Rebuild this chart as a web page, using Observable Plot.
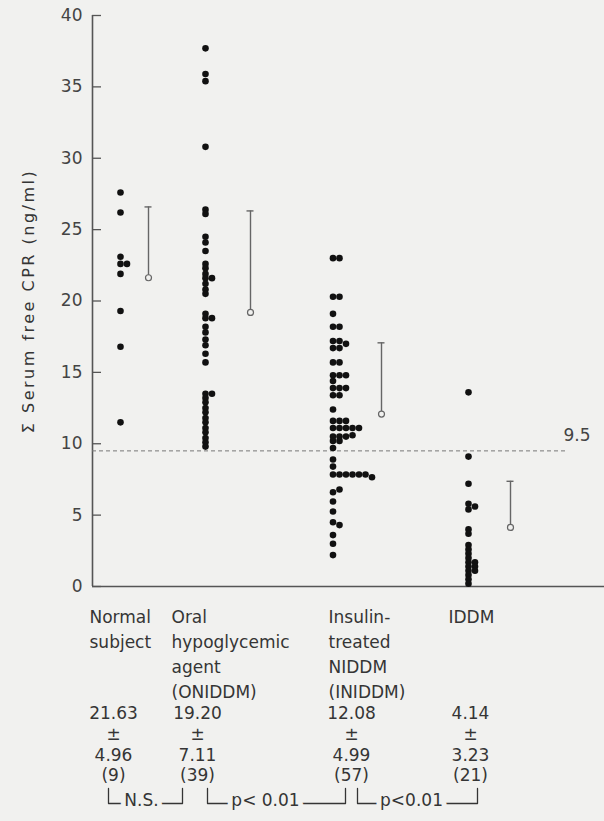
<!DOCTYPE html>
<html>
<head>
<meta charset="utf-8">
<script src="https://cdn.jsdelivr.net/npm/d3@7"></script>
<script src="https://cdn.jsdelivr.net/npm/@observablehq/plot@0.6"></script>
<style>
  html, body { margin: 0; padding: 0; background: #f1f1ef; }
  #chart svg { display: block; }
</style>
</head>
<body>
<div id="chart"></div>
<script>
// ---------------- DATA ----------------
const groups = ["Normal subject", "Oral hypoglycemic agent (ONIDDM)", "Insulin-treated NIDDM (INIDDM)", "IDDM"];
const groupLabelLines = [
  ["Normal", "subject"],
  ["Oral", "hypoglycemic", "agent", "(ONIDDM)"],
  ["Insulin-", "treated", "NIDDM", "(INIDDM)"],
  ["IDDM"]
];
const means = [21.63, 19.20, 12.08, 4.14];
const sds = [4.96, 7.11, 4.99, 3.23];
const counts = [9, 39, 57, 21];
const meanLabels = ["21.63", "19.20", "12.08", "4.14"];
const sdLabels = ["4.96", "7.11", "4.99", "3.23"];
const threshold = 9.5;
const thresholdLabel = "9.5";
const yTicks = [0, 5, 10, 15, 20, 25, 30, 35, 40];
const yLabel = "Σ Serum free CPR (ng/ml)";
const comparisons = ["N.S.", "p< 0.01", "p<0.01"];

// individual values (ng/ml)
const normalValues = [27.6, 26.2, 23.1, 22.6, 22.6, 21.9, 19.3, 16.8, 11.5];
const oniddmValues = [37.7, 35.9, 35.4, 30.8, 26.4, 26.1, 24.5, 24.1, 23.5, 22.6, 22.3, 21.9, 21.6, 21.6, 21.2, 20.8, 20.5,
  19.1, 18.8, 18.8, 18.2, 17.8, 17.3, 16.9, 16.3, 15.7,
  13.5, 13.5, 13.2, 12.9, 12.5, 12.2, 11.8, 11.5, 11.1, 10.8, 10.4, 10.1, 9.8];
const iniddmValues = [23.0, 23.0, 20.3, 20.3, 19.1, 18.2, 18.2, 17.2, 17.2, 17.0, 16.7, 16.7, 15.7, 15.7,
  14.8, 14.8, 14.8, 14.4, 13.9, 13.9, 13.9, 13.4, 13.4, 12.4, 11.6, 11.6, 11.6,
  11.1, 11.1, 11.1, 11.1, 11.1, 10.5, 10.5, 10.5, 10.6, 10.2, 10.2, 9.7, 8.9, 8.4,
  7.85, 7.85, 7.85, 7.85, 7.85, 7.85, 7.65, 6.6, 6.8, 5.95, 5.25, 4.5, 4.3, 3.6, 3.0, 2.2];
const iddmValues = [13.6, 9.1, 7.2, 5.8, 5.6, 5.4, 4.0, 3.7, 2.9, 2.6, 2.3, 2.0, 1.7, 1.7, 1.4, 1.4, 1.1, 1.1, 0.8, 0.5, 0.2];
const groupValues = [normalValues, oniddmValues, iniddmValues, iddmValues];

// ---------------- LAYOUT ----------------
const W = 604, H = 821;
const mLeft = 92, mTop = 15, axisBottom = 586;
const ppu = (axisBottom - mTop) / 40;           // pixels per ng/ml
const X = d3.scaleLinear([mLeft, W], [0, 100]);  // pixel -> x units
const below = off => -off / ppu;                 // pixels below the baseline -> y units

const dotPx = [120, 205, 332.5, 468];
const sdPx = [148, 250, 381, 510];
const labelLeftPx = [89, 171, 328, 448];
const statPx = [113, 197, 351, 470];
const bracketPx = [[108, 182], [207, 345], [357, 477]];
const bracketTextPx = [141, 265, 411];

const bg = "#f1f1ef", ink = "#353535", axisGrey = "#555", barGrey = "#666";
const colStep = 6.5, minDist = 4;

// simple dodge: identical / near-identical values are set side by side
function dodge(values, gi) {
  const placed = [];
  return values.map(v => {
    const ypx = v * ppu;
    let c = 0;
    while (placed.some(p => Math.hypot((p.c - c) * colStep, p.y - ypx) < minDist)) c++;
    placed.push({c, y: ypx});
    return {group: groups[gi], value: v, x: X(dotPx[gi] + c * colStep)};
  });
}
const points = groupValues.flatMap((vals, gi) => dodge(vals, gi));

const summary = groups.map((g, i) => ({
  group: g, mean: means[i], top: means[i] + sds[i], x: X(sdPx[i]),
  capL: X(sdPx[i] - 3.5), capR: X(sdPx[i] + 3.5)
}));

const labelRows = groupLabelLines.flatMap((lines, i) =>
  lines.map((t, k) => ({text: t, x: X(labelLeftPx[i]), y: below(31 + k * 25)})));

const statRows = groups.flatMap((g, i) => [
  {text: meanLabels[i], x: X(statPx[i]), y: below(127)},
  {text: "±", x: X(statPx[i]), y: below(148)},
  {text: sdLabels[i], x: X(statPx[i]), y: below(169)},
  {text: `(${counts[i]})`, x: X(statPx[i]), y: below(189)}
]);

const bracketPts = bracketPx.flatMap(([a, b], i) => [
  {id: i, x: X(a), y: below(202)}, {id: i, x: X(a), y: below(217)},
  {id: i, x: X(b), y: below(217)}, {id: i, x: X(b), y: below(202)}
]);
const bracketText = comparisons.map((t, i) => ({text: t, x: X(bracketTextPx[i]), y: below(214)}));

const chart = Plot.plot({
  width: W, height: H,
  marginLeft: mLeft, marginRight: 0, marginTop: mTop, marginBottom: H - axisBottom,
  x: {domain: [0, 100], axis: null},
  y: {domain: [0, 40], axis: null},
  style: {background: bg, fontFamily: "DejaVu Sans", fontSize: "17px", color: ink},
  marks: [
    // axes
    Plot.ruleX([0], {y1: 0, y2: 40, stroke: axisGrey, strokeWidth: 1.6}),
    Plot.ruleY([0], {stroke: axisGrey, strokeWidth: 1.6}),
    Plot.ruleY(yTicks, {y: d => d, x1: 0, x2: X(mLeft + 9), stroke: axisGrey, strokeWidth: 1.3}),
    Plot.axisY(yTicks, {tickSize: 0, tickPadding: 10, label: null, fill: "#444", fontSize: 17}),
    Plot.text([yLabel], {text: d => d, frameAnchor: "left", textAnchor: "middle", rotate: -90, dx: -64,
      fill: ink, fontSize: 16}),
    // threshold
    Plot.ruleY([threshold], {y: d => d, x1: 0, x2: X(567), stroke: "#777", strokeWidth: 1, strokeDasharray: "4,3"}),
    Plot.text([thresholdLabel], {text: d => d, x: X(563), y: threshold, dy: -15, textAnchor: "start", fill: "#444"}),
    // individual points
    Plot.dot(points, {x: "x", y: "value", r: 3.3, fill: "#111", stroke: null}),
    // mean + SD
    Plot.ruleX(summary, {x: "x", y1: "mean", y2: "top", stroke: barGrey, strokeWidth: 1.4}),
    Plot.ruleY(summary, {y: "top", x1: "capL", x2: "capR", stroke: barGrey, strokeWidth: 1.4}),
    Plot.dot(summary, {x: "x", y: "mean", r: 3, stroke: barGrey, strokeWidth: 1.2, fill: bg}),
    // category labels and statistics
    Plot.text(labelRows, {x: "x", y: "y", text: "text", textAnchor: "start", fill: ink}),
    Plot.text(statRows, {x: "x", y: "y", text: "text", textAnchor: "middle", fill: ink}),
    // comparison brackets
    Plot.line(bracketPts, {x: "x", y: "y", z: "id", stroke: ink, strokeWidth: 1.3, curve: "linear"}),
    Plot.text(bracketText, {x: "x", y: "y", text: "text", fill: ink, stroke: bg, strokeWidth: 10})
  ]
});
// widen the letter spacing of the vertical axis title, as in the original typesetting
d3.select(chart).selectAll("text").filter(function () { return this.textContent === yLabel; })
  .attr("letter-spacing", "2.5px");
document.getElementById("chart").append(chart);
</script>
</body>
</html>
